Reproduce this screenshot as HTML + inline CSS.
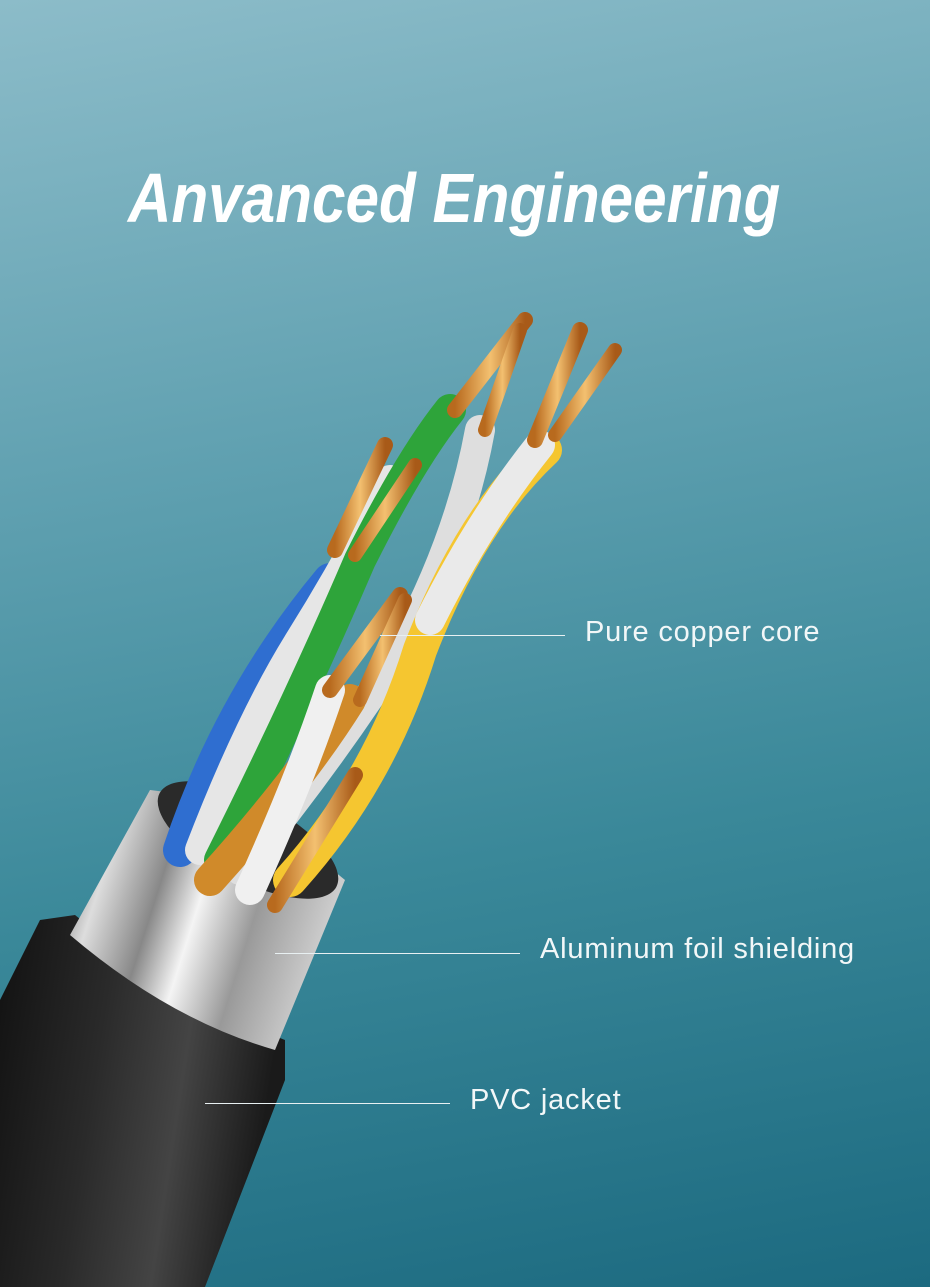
<!DOCTYPE html>
<html><head><meta charset="utf-8"><style>
html,body{margin:0;padding:0;}
body{width:930px;height:1287px;overflow:hidden;position:relative;background:linear-gradient(170deg,#8cbcc9 0%,#5fa0b0 35%,#3a8899 65%,#1c6a80 100%);font-family:"Liberation Sans",sans-serif;}
.t{position:absolute;left:128px;top:158px;color:#fff;font-family:"Liberation Sans Narrow","Liberation Sans",sans-serif;font-weight:bold;font-style:italic;font-size:70px;letter-spacing:0px;white-space:nowrap;transform:scaleX(0.86);transform-origin:left;}
.l{position:absolute;color:#f2f7f8;font-size:29px;white-space:nowrap;letter-spacing:0.8px;}
.ln{position:absolute;height:1px;background:#e8f0f2;}
</style></head><body>
<svg width="930" height="1287" style="position:absolute;left:0;top:0">
<defs>
<linearGradient id="foil" x1="0" y1="0" x2="1" y2="0.3">
<stop offset="0" stop-color="#555"/><stop offset="0.2" stop-color="#ddd"/><stop offset="0.4" stop-color="#888"/><stop offset="0.55" stop-color="#f4f4f4"/><stop offset="0.75" stop-color="#999"/><stop offset="1" stop-color="#ccc"/></linearGradient>
<linearGradient id="jk" x1="0" y1="0" x2="1" y2="0.2">
<stop offset="0" stop-color="#111"/><stop offset="0.4" stop-color="#2a2a2a"/><stop offset="0.7" stop-color="#444"/><stop offset="1" stop-color="#1a1a1a"/></linearGradient>
<linearGradient id="cu" x1="0" y1="0" x2="1" y2="0"><stop offset="0" stop-color="#b86a1e"/><stop offset="0.5" stop-color="#f3c070"/><stop offset="1" stop-color="#a85a18"/></linearGradient>
</defs>
<path d="M0,1000 L40,920 L75,915 Q180,1000 285,1040 L285,1080 L205,1287 L0,1287 Z" fill="url(#jk)"/>
<path d="M70,935 L150,790 Q250,800 345,880 L275,1050 Q170,1020 70,935 Z" fill="url(#foil)"/>
<ellipse cx="248" cy="840" rx="100" ry="40" transform="rotate(28 248 840)" fill="#2a2a2a"/>
<g fill="none" stroke-linecap="round">
<path d="M180,850 Q230,700 330,580" stroke="#2f6ed0" stroke-width="34"/>
<path d="M200,850 Q250,720 300,640 Q350,560 390,480" stroke="#e6e6e6" stroke-width="30"/>
<path d="M220,860 Q300,700 360,560 Q410,460 450,410" stroke="#2ea43a" stroke-width="32"/>
<path d="M240,870 Q330,760 400,650 Q460,540 480,430" stroke="#dedede" stroke-width="30"/>
<path d="M210,880 Q300,780 350,700" stroke="#d08a2a" stroke-width="32"/>
<path d="M250,890 Q300,780 330,690" stroke="#f0f0f0" stroke-width="30"/>
<path d="M290,880 Q380,780 420,650 Q470,520 545,450" stroke="#f5c630" stroke-width="34"/>
<path d="M430,620 Q480,520 540,445" stroke="#eaeaea" stroke-width="30"/>
<path d="M335,550 L385,445" stroke="url(#cu)" stroke-width="16"/>
<path d="M355,555 L415,465" stroke="url(#cu)" stroke-width="14"/>
<path d="M455,410 L525,320" stroke="url(#cu)" stroke-width="16"/>
<path d="M485,430 L520,330" stroke="url(#cu)" stroke-width="14"/>
<path d="M535,440 L580,330" stroke="url(#cu)" stroke-width="16"/>
<path d="M555,435 L615,350" stroke="url(#cu)" stroke-width="14"/>
<path d="M330,690 L400,595" stroke="url(#cu)" stroke-width="16"/>
<path d="M360,700 L405,600" stroke="url(#cu)" stroke-width="14"/>
<path d="M275,905 L355,775" stroke="url(#cu)" stroke-width="16"/>
</g>
</svg>
<div class="t">Anvanced Engineering</div>
<div class="ln" style="left:380px;top:635px;width:185px"></div>
<div class="l" style="left:585px;top:616px">Pure copper core</div>
<div class="ln" style="left:275px;top:953px;width:245px"></div>
<div class="l" style="left:540px;top:933px">Aluminum foil shielding</div>
<div class="ln" style="left:205px;top:1103px;width:245px"></div>
<div class="l" style="left:470px;top:1084px">PVC jacket</div>
</body></html>
